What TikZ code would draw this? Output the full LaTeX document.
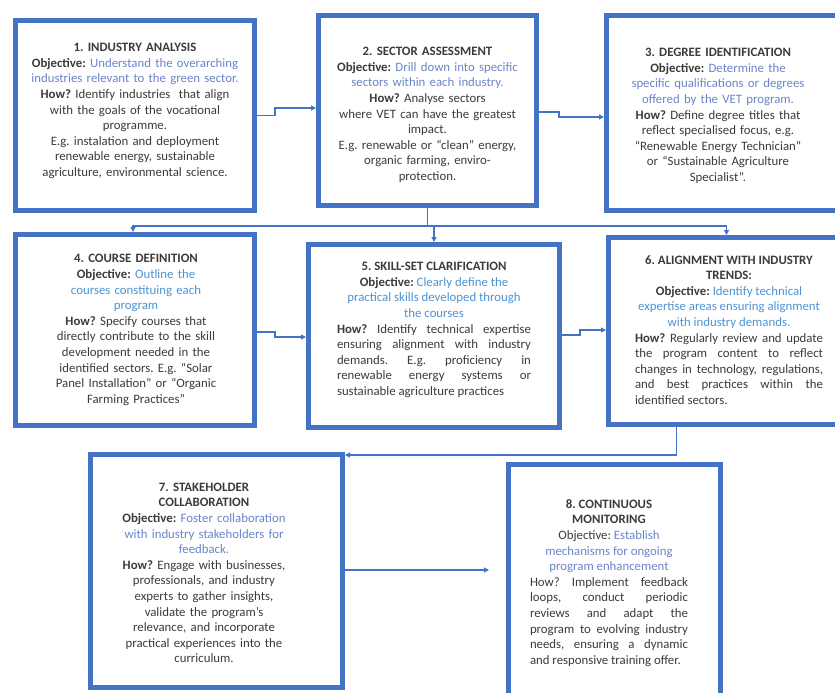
\documentclass[tikz,border=0pt]{standalone}
\usepackage{fontspec}
\setmainfont{Carlito}
\usepackage{xcolor}
\usetikzlibrary{arrows.meta}
\definecolor{frameblue}{HTML}{4472C4}
\definecolor{objblue}{HTML}{6A85C9}
\definecolor{objcyan}{HTML}{4E93D2}
\definecolor{bodygray}{HTML}{3B3B3B}
\tikzset{
    card/.style={draw=frameblue, line width=5pt, fill=white, inner sep=0pt},
    cardtext/.style={text=bodygray, inner sep=0pt, font=\fontsize{12.8}{15.6}\selectfont\frenchspacing},
    link/.style={draw=frameblue, line width=1.1pt, -{Triangle[length=5pt,width=5pt]}},
    trunk/.style={draw=frameblue, line width=1.1pt}
}

\begin{document}
\begin{tikzpicture}[x=1pt,y=-1pt]
            \useasboundingbox (0,0) rectangle (835,693);
            \node[card, minimum width=239pt, minimum height=190pt] (b1) at (135,115.5) {};
            \node[card, minimum width=218pt, minimum height=190pt] (b2) at (427.5,110.5) {};
            \node[card, minimum width=233pt, minimum height=195pt] (b3) at (723,113) {};
            \node[card, minimum width=239pt, minimum height=191pt] (b4) at (135,330) {};
            \node[card, minimum width=251pt, minimum height=183pt] (b5) at (434,336) {};
            \node[card, minimum width=245pt, minimum height=187pt] (b6) at (731,331) {};
            \node[card, minimum width=252pt, minimum height=233pt] (b7) at (216.5,571) {};
            \node[card, minimum width=212pt, minimum height=245pt] (b8) at (614.5,587) {};

            \node[cardtext, text width=230pt, align=center] (t1) at (135,111) {\textbf{1. INDUSTRY ANALYSIS}\\
                \textbf{Objective:} \textcolor{objblue}{Understand the overarching}\\
                \textcolor{objblue}{industries relevant to the green sector.}\\
                \textbf{How?} Identify industries\ \ that align\\
                with the goals of the vocational\\
                programme.\\
                E.g. instalation and deployment\\
                renewable energy, sustainable\\
                agriculture, environmental science.};
            \node[cardtext, text width=210pt, align=center] (t2) at (427.5,115) {\textbf{2. SECTOR ASSESSMENT}\\
                \textbf{Objective:} \textcolor{objblue}{Drill down into specific}\\
                \textcolor{objblue}{sectors within each industry.}\\
                \textbf{How?} Analyse sectors\\
                where VET can have the greatest\\
                impact.\\
                E.g. renewable or ``clean'' energy,\\
                organic farming, enviro-\\
                protection.};
            \node[cardtext, text width=220pt, align=center] (t3) at (718,116) {\textbf{3. DEGREE IDENTIFICATION}\\
                \textbf{Objective:} \textcolor{objblue}{Determine the}\\
                \textcolor{objblue}{specific qualifications or degrees}\\
                \textcolor{objblue}{offered by the VET program.}\\
                \textbf{How?} Define degree titles that\\
                reflect specialised focus, e.g.\\
                ``Renewable Energy Technician''\\
                or ``Sustainable Agriculture\\
                Specialist''.};
            \node[cardtext, text width=225pt, align=center] (t4) at (136,330) {\textbf{4. COURSE DEFINITION}\\
                \textbf{Objective:} \textcolor{objcyan}{Outline the}\\
                \textcolor{objcyan}{courses constituing each}\\
                \textcolor{objcyan}{program}\\
                \textbf{How?} Specify courses that\\
                directly contribute to the skill\\
                development needed in the\\
                identified sectors. E.g. ``Solar\\
                Panel Installation'' or ``Organic\\
                Farming Practices''};
            \node[cardtext, text width=194pt, align=justify] (t5) at (434,330) {{\centering
                \textbf{5. SKILL-SET CLARIFICATION}\\
                \textbf{Objective:} \textcolor{objcyan}{Clearly define the}\\
                \textcolor{objcyan}{practical skills developed through}\\
                \textcolor{objcyan}{the courses}\par}
                \textbf{How?} Identify technical expertise\linebreak
                ensuring alignment with industry\linebreak
                demands. E.g. proficiency in\linebreak
                renewable energy systems or\linebreak
                sustainable agriculture practices};
            \node[cardtext, text width=188pt, align=justify] (t6) at (729,330) {{\centering
                \textbf{6. ALIGNMENT WITH INDUSTRY}\\
                \textbf{TRENDS:}\\
                \textbf{Objective:} \textcolor{objcyan}{Identify technical}\\
                \textcolor{objcyan}{expertise areas ensuring alignment}\\
                \textcolor{objcyan}{with industry demands.}\par}
                \textbf{How?} Regularly review and update\linebreak
                the program content to reflect\linebreak
                changes in technology, regulations,\linebreak
                and best practices within the\linebreak
                identified sectors.};
            \node[cardtext, text width=230pt, align=center] (t7) at (204,573) {\textbf{7. STAKEHOLDER}\\
                \textbf{COLLABORATION}\\
                \textbf{Objective:} \textcolor{objblue}{Foster collaboration}\\
                \textcolor{objblue}{with industry stakeholders for}\\
                \textcolor{objblue}{feedback.}\\
                \textbf{How?} Engage with businesses,\\
                professionals, and industry\\
                experts to gather insights,\\
                validate the program's\\
                relevance, and incorporate\\
                practical experiences into the\\
                curriculum.};
            \node[cardtext, text width=158pt, align=justify] (t8) at (609,583) {{\centering
                \textbf{8. CONTINUOUS}\\
                \textbf{MONITORING}\\
                Objective: \textcolor{objblue}{Establish}\\
                \textcolor{objblue}{mechanisms for ongoing}\\
                \textcolor{objblue}{program enhancement}\par}
                How? Implement feedback\linebreak
                loops, conduct periodic\linebreak
                reviews and adapt the\linebreak
                program to evolving industry\linebreak
                needs, ensuring a dynamic\linebreak
                and responsive training offer.};

            \coordinate (split) at (427.5,226);
            \draw[link] (b1.east) -- ++(18,0) |- ([yshift=2.5pt]b2.west);
            \draw[link] ([yshift=-1.5pt]b2.east) -- ++(20,0) |- ([yshift=-4pt]b3.west);
            \draw[trunk] (b2.south) -- (split);
            \draw[link] (split) -| ([xshift=-2pt]b4.north);
            \draw[link] (split) -| (b5.north);
            \draw[link] (split) -| ([xshift=-4.5pt]b6.north);
            \draw[link] ([yshift=-2pt]b4.east) -- ++(18,0) |- ([yshift=-1pt]b5.west);
            \draw[link] ([yshift=1pt]b5.east) -- ++(18,0) |- ([yshift=1pt]b6.west);
            \draw[link] ([xshift=-54.5pt]b6.south) |- ([yshift=-3pt]b7.north east);
            \draw[link, shorten >=17pt] ([yshift=1pt]b7.east) -- ([yshift=1pt]b7.east -| b8.west);
\end{tikzpicture}
\end{document}
